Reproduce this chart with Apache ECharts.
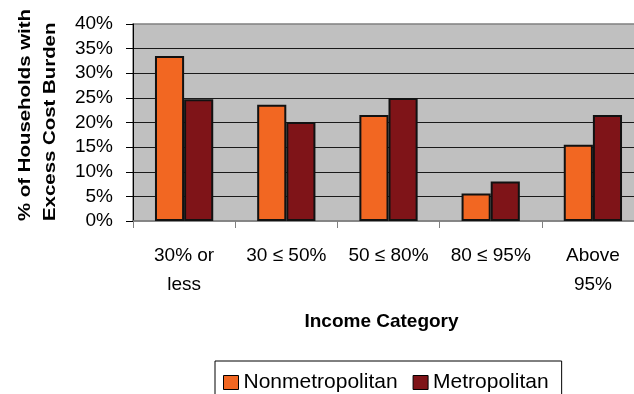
<!DOCTYPE html>
<html>
<head>
<meta charset="utf-8">
<script src="https://cdn.jsdelivr.net/npm/echarts@6/dist/echarts.min.js"></script>
<style>
  html, body { margin: 0; padding: 0; background: #fff; }
  #chart { width: 634px; height: 394px; }
</style>
</head>
<body>
<div id="chart"></div>
<script>
// Share of households with excess cost burden, by income category
const categories = ['30% or\nless', '30 ≤ 50%', '50 ≤ 80%', '80 ≤ 95%', 'Above\n95%'];
const nonmetropolitan = [33.5, 23.6, 21.5, 5.6, 15.5];
const metropolitan = [24.7, 20.1, 25.0, 8.0, 21.5];
const seriesNames = ['Nonmetropolitan', 'Metropolitan'];
const yTitle = '% of Households with\nExcess Cost Burden';
const xTitle = 'Income Category';

const FONT = '"Liberation Sans", Arial, Helvetica, sans-serif';

const chart = echarts.init(document.getElementById('chart'), null, { renderer: 'canvas' });

chart.setOption({
  animation: false,
  backgroundColor: '#ffffff',
  textStyle: { fontFamily: FONT, color: '#000' },
  grid: {
    left: 133,
    width: 511,
    top: 24,
    bottom: 173,
    outerBoundsMode: 'none',
    containLabel: false,
    show: true,
    backgroundColor: '#c0c0c0',
    borderColor: '#808080',
    borderWidth: 1.5
  },
  legend: {
    data: seriesNames,
    left: 215,
    top: 361,
    orient: 'horizontal',
    padding: [11, 13, 30, 8],
    itemGap: 15,
    itemWidth: 15,
    itemHeight: 14,
    icon: 'rect',
    borderColor: '#000',
    borderWidth: 1,
    textStyle: { fontFamily: FONT, fontSize: 21, color: '#000' },
    itemStyle: { borderColor: '#000', borderWidth: 1 }
  },
  xAxis: {
    type: 'category',
    data: categories,
    name: xTitle,
    nameLocation: 'middle',
    nameGap: 91,
    nameTextStyle: {
      fontFamily: FONT, fontSize: 19, fontWeight: 'bold', color: '#000',
      lineHeight: 19, padding: [0, 14, 0, 0]
    },
    axisLine: { show: true, lineStyle: { color: '#808080', width: 1.5 } },
    axisTick: { show: true, length: 7, lineStyle: { color: '#808080', width: 1 } },
    axisLabel: {
      fontFamily: FONT, fontSize: 19, color: '#000',
      lineHeight: 29, margin: 20, interval: 0
    },
    splitLine: { show: false }
  },
  yAxis: {
    type: 'value',
    min: 0,
    max: 40,
    interval: 5,
    axisLine: { show: true, lineStyle: { color: '#000', width: 1 } },
    axisTick: { show: true, length: 7, lineStyle: { color: '#000', width: 1 } },
    axisLabel: {
      fontFamily: FONT, fontSize: 19, color: '#000', margin: 20,
      formatter: '{value}%'
    },
    splitLine: {
      show: true,
      showMinLine: false,
      showMaxLine: false,
      lineStyle: { color: '#1a1a1a', width: 1 }
    }
  },
  graphic: [{
    type: 'text',
    x: 13,
    y: 221,
    rotation: Math.PI / 2,
    scaleX: 1.2,
    style: {
      text: yTitle,
      fontFamily: FONT,
      fontSize: 17,
      fontWeight: 'bold',
      lineHeight: 25,
      fill: '#000',
      align: 'left',
      verticalAlign: 'top'
    },
    z: 10
  }],
  series: [
    {
      name: seriesNames[0],
      type: 'bar',
      data: nonmetropolitan,
      barGap: '0%',
      barCategoryGap: '43%',
      itemStyle: { color: '#f26722', borderColor: '#111', borderWidth: 2 }
    },
    {
      name: seriesNames[1],
      type: 'bar',
      data: metropolitan,
      barGap: '0%',
      barCategoryGap: '43%',
      itemStyle: { color: '#7f1418', borderColor: '#111', borderWidth: 2 }
    }
  ]
});
</script>
</body>
</html>
